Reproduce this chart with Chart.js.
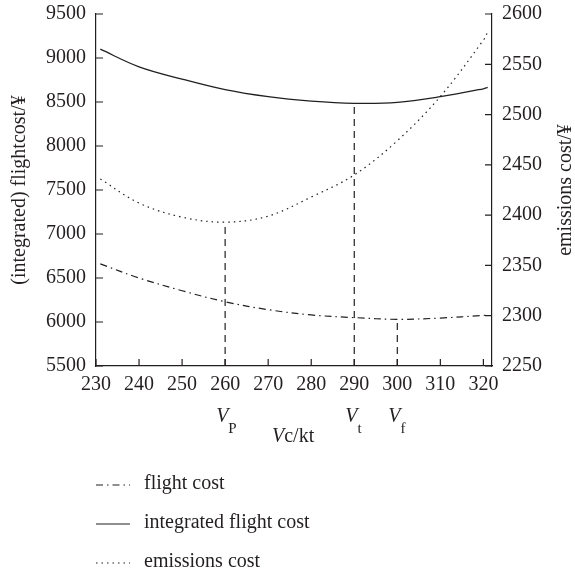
<!DOCTYPE html>
<html>
<head>
<meta charset="utf-8">
<script src="https://cdn.jsdelivr.net/npm/chart.js@4"></script>
<style>
    body { margin: 0; background: #fff; }
    #wrap { width: 575px; height: 575px; }
</style>
</head>
<body>
<div id="wrap"><canvas id="costChart" width="575" height="575"></canvas></div>
<script>
const speeds = [231, 240, 250, 260, 270, 280, 290, 300, 310, 320, 321];
const flightCost = [6660, 6500, 6355, 6230, 6140, 6080, 6050, 6030, 6045, 6075, 6080];
const integratedCost = [9100, 8900, 8760, 8640, 8560, 8510, 8485, 8495, 8560, 8650, 8665];
const emissionsCost = [2436, 2412, 2398, 2393, 2399, 2418, 2440, 2474, 2518, 2574, 2582];

const xTicks = [230, 240, 250, 260, 270, 280, 290, 300, 310, 320];
const leftTicks = [5500, 6000, 6500, 7000, 7500, 8000, 8500, 9000, 9500];
const rightTicks = [2250, 2300, 2350, 2400, 2450, 2500, 2550, 2600];

// optimum speeds: Vp (emissions min), Vt (integrated min), Vf (flight min)
const optimumNames = ["P", "t", "f"];
const optimumSpeeds = [260, 290, 300];
const optimumTops = [2393, 8485, 6030];
const optimumAxes = ["y2", "y", "y"];

const INK = "#231f20";
const FONT = '"Liberation Serif", "DejaVu Serif", serif';
const SIZE = 20;

const toPoints = values => values.map((v, i) => ({ x: speeds[i], y: v }));

const markerSets = optimumSpeeds.map((s, i) => ({
    label: "V" + optimumNames[i],
    data: [
        { x: s, y: optimumAxes[i] === "y2" ? rightTicks[0] : leftTicks[0] },
        { x: s, y: optimumTops[i] }
    ],
    yAxisID: optimumAxes[i],
    borderColor: INK,
    borderWidth: 1.2,
    borderDash: [7, 5],
    pointRadius: 0,
    fill: false
}));

const legendItems = [
    { text: "flight cost", dash: [7, 4, 1.5, 4] },
    { text: "integrated flight cost", dash: [] },
    { text: "emissions cost", dash: [1.5, 4] }
];

const extrasPlugin = {
    id: "extras",
    afterDraw(chart) {
        const { ctx, chartArea: area, scales } = chart;
        ctx.save();
        ctx.strokeStyle = INK;
        ctx.fillStyle = INK;
        ctx.lineWidth = 1.2;

        // inward tick marks
        ctx.beginPath();
        xTicks.forEach(v => {
            const px = scales.x.getPixelForValue(v);
            ctx.moveTo(px, area.bottom);
            ctx.lineTo(px, area.bottom - 7);
        });
        leftTicks.forEach(v => {
            const py = scales.y.getPixelForValue(v);
            ctx.moveTo(area.left, py);
            ctx.lineTo(area.left + 7, py);
        });
        rightTicks.forEach(v => {
            const py = scales.y2.getPixelForValue(v);
            ctx.moveTo(area.right, py);
            ctx.lineTo(area.right - 7, py);
        });
        ctx.stroke();

        // axis titles, both read bottom to top
        const midY = (area.top + area.bottom) / 2;
        ctx.font = `${SIZE}px ${FONT}`;
        ctx.textAlign = "center";
        ctx.textBaseline = "middle";
        [[20, "(integrated) flightcost/¥"], [566, "emissions cost/¥"]].forEach(([x, t]) => {
            ctx.save();
            ctx.translate(x, midY);
            ctx.rotate(-Math.PI / 2);
            ctx.fillText(t, 0, 0);
            ctx.restore();
        });

        // V labels under the x axis
        ctx.textAlign = "left";
        ctx.textBaseline = "alphabetic";
        optimumSpeeds.forEach((s, i) => {
            const px = scales.x.getPixelForValue(s) - 9;
            ctx.font = `italic ${SIZE}px ${FONT}`;
            ctx.fillText("V", px, 422);
            const w = ctx.measureText("V").width;
            ctx.font = `15px ${FONT}`;
            ctx.fillText(optimumNames[i], px + w, 433);
        });
        ctx.font = `italic ${SIZE}px ${FONT}`;
        const vw = ctx.measureText("V").width;
        ctx.fillText("V", 272, 442);
        ctx.font = `${SIZE}px ${FONT}`;
        ctx.fillText("c/kt", 272 + vw, 442);

        // legend
        legendItems.forEach((item, i) => {
            const y = 484 + i * 39;
            ctx.beginPath();
            ctx.setLineDash(item.dash);
            ctx.moveTo(96, y + 1);
            ctx.lineTo(130, y + 1);
            ctx.stroke();
            ctx.setLineDash([]);
            ctx.font = `${SIZE}px ${FONT}`;
            ctx.textBaseline = "middle";
            ctx.fillText(item.text, 144, y);
        });
        ctx.restore();
    }
};

const axisBase = {
    type: "linear",
    grid: { display: false, drawTicks: false },
    border: { display: true, color: INK, width: 1.2 },
    ticks: {
        color: INK,
        font: { family: FONT, size: SIZE },
        padding: 10,
        callback: v => String(v)
    }
};

const fitVertical = width => axis => {
    axis.width = width;
    axis.paddingTop = 0;
    axis.paddingBottom = 0;
};

new Chart(document.getElementById("costChart"), {
    type: "line",
    data: {
        datasets: [
            {
                label: "flight cost",
                data: toPoints(flightCost),
                yAxisID: "y",
                borderColor: INK,
                borderWidth: 1.2,
                borderDash: [7, 4, 1.5, 4],
                tension: 0.35,
                pointRadius: 0
            },
            {
                label: "integrated flight cost",
                data: toPoints(integratedCost),
                yAxisID: "y",
                borderColor: INK,
                borderWidth: 1.3,
                tension: 0.35,
                pointRadius: 0
            },
            {
                label: "emissions cost",
                data: toPoints(emissionsCost),
                yAxisID: "y2",
                borderColor: INK,
                borderWidth: 1.2,
                borderDash: [1.5, 4],
                tension: 0.35,
                pointRadius: 0
            },
            ...markerSets
        ]
    },
    options: {
        responsive: false,
        animation: false,
        devicePixelRatio: 1,
        layout: { padding: { top: 14, left: 0, right: 0, bottom: 0 } },
        plugins: { legend: { display: false }, tooltip: { enabled: false } },
        scales: {
            x: {
                ...axisBase,
                min: 230,
                max: 322,
                ticks: { ...axisBase.ticks, padding: 7 },
                afterBuildTicks: axis => { axis.ticks = xTicks.map(v => ({ value: v })); },
                afterFit: axis => {
                    axis.height = 209;
                    axis.paddingLeft = 0;
                    axis.paddingRight = 0;
                }
            },
            y: {
                ...axisBase,
                position: "left",
                min: 5500,
                max: 9500,
                afterBuildTicks: axis => { axis.ticks = leftTicks.map(v => ({ value: v })); },
                afterFit: fitVertical(96)
            },
            y2: {
                ...axisBase,
                position: "right",
                min: 2250,
                max: 2600,
                afterBuildTicks: axis => { axis.ticks = rightTicks.map(v => ({ value: v })); },
                afterFit: fitVertical(83)
            }
        }
    },
    plugins: [extrasPlugin]
});
</script>
</body>
</html>
